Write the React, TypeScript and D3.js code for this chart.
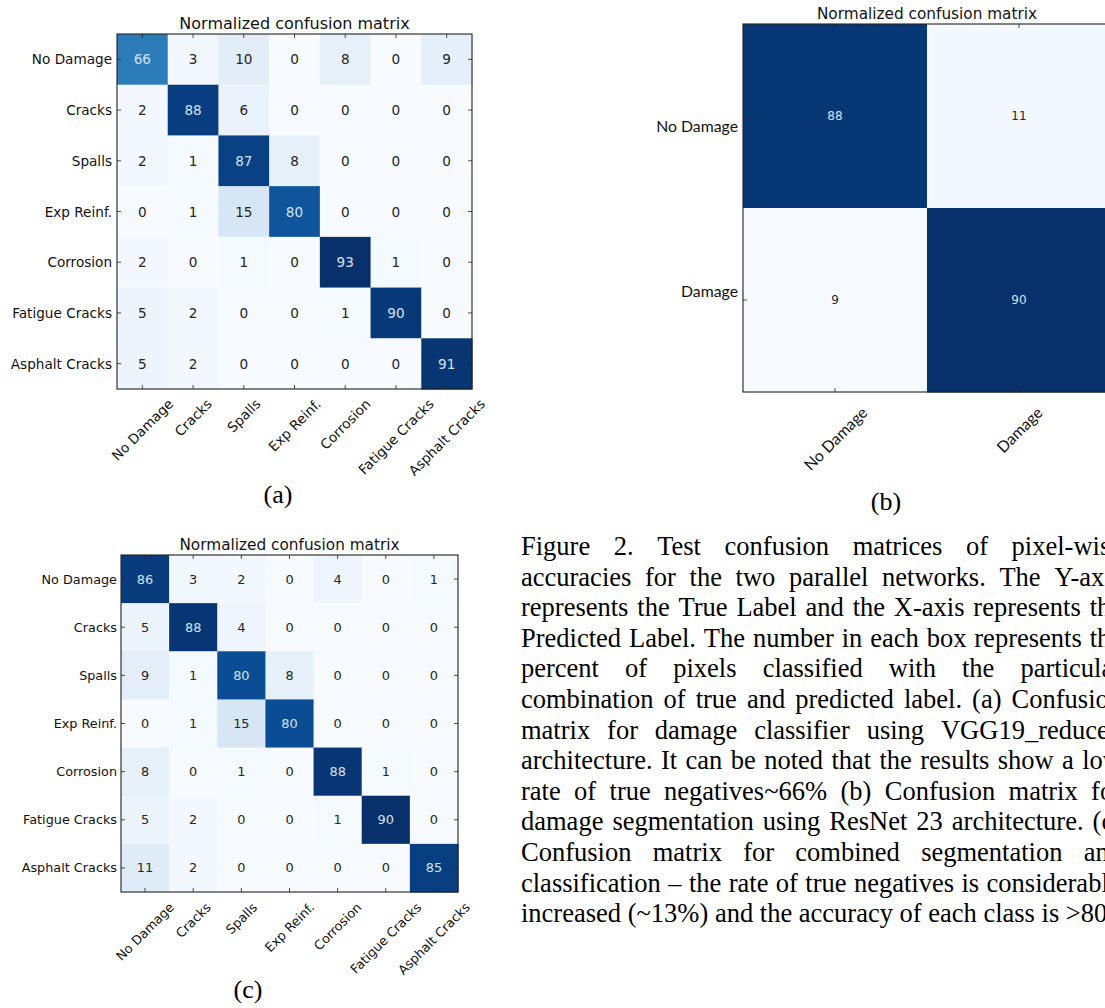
import React, { useEffect, useRef } from "react";
import * as d3 from "d3";

const CLASSES = ["No Damage", "Cracks", "Spalls", "Exp Reinf.", "Corrosion", "Fatigue Cracks", "Asphalt Cracks"];

// (a) VGG19_reduced classifier
const MATRIX_A = [
  [66, 3, 10, 0, 8, 0, 9],
  [2, 88, 6, 0, 0, 0, 0],
  [2, 1, 87, 8, 0, 0, 0],
  [0, 1, 15, 80, 0, 0, 0],
  [2, 0, 1, 0, 93, 1, 0],
  [5, 2, 0, 0, 1, 90, 0],
  [5, 2, 0, 0, 0, 0, 91],
];

// (b) ResNet 23 segmentation
const BINARY_CLASSES = ["No Damage", "Damage"];
const MATRIX_B = [
  [88, 11],
  [9, 90],
];

// (c) combined
const MATRIX_C = [
  [86, 3, 2, 0, 4, 0, 1],
  [5, 88, 4, 0, 0, 0, 0],
  [9, 1, 80, 8, 0, 0, 0],
  [0, 1, 15, 80, 0, 0, 0],
  [8, 0, 1, 0, 88, 1, 0],
  [5, 2, 0, 0, 1, 90, 0],
  [11, 2, 0, 0, 0, 0, 85],
];

const TITLE = "Normalized confusion matrix";
const PANEL_LABELS = ["(a)", "(b)", "(c)"];

const CAPTION_LINES = [
  "Figure 2. Test confusion matrices of pixel-wise",
  "accuracies for the two parallel networks. The Y-axis",
  "represents the True Label and the X-axis represents the",
  "Predicted Label. The number in each box represents the",
  "percent of pixels classified with the particular",
  "combination of true and predicted label. (a) Confusion",
  "matrix for damage classifier using VGG19_reduced",
  "architecture. It can be noted that the results show a low",
  "rate of true negatives~66% (b) Confusion matrix for",
  "damage segmentation using ResNet 23 architecture. (c)",
  "Confusion matrix for combined segmentation and",
  "classification \u2013 the rate of true negatives is considerably",
  "increased (~13%) and the accuracy of each class is >80%.",
];

const W = 1105;
const H = 1008;
const DEJAVU = "'DejaVu Sans', sans-serif";
const SERIF = "'Liberation Serif', 'Times New Roman', serif";

function drawMatrix(svg, { classes, matrix, x0, y0, size, titleSize, tickSize, numSize, tickFont, xGap, yGap, yLabelPad }) {
  const g = svg.append("g");
  const x = d3.scaleBand().domain(classes).range([x0, x0 + size]);
  const y = d3.scaleBand().domain(classes).range([y0, y0 + size]);
  // label positions for the y axis (the binary panel's labels sit a bit inset)
  const yl = d3.scalePoint().domain(classes).range([y0, y0 + size]).padding(yLabelPad ?? 0.5);
  const flat = matrix.flat();
  const lo = d3.min(flat);
  const hi = d3.max(flat);
  const color = d3.scaleSequential(d3.interpolateBlues).domain([lo, hi]);
  const thresh = hi / 2;

  const cells = [];
  matrix.forEach((row, i) => row.forEach((v, j) => cells.push({ i, j, v })));

  g.selectAll("rect.cell")
    .data(cells)
    .join("rect")
    .attr("class", "cell")
    .attr("x", (d) => x(classes[d.j]))
    .attr("y", (d) => y(classes[d.i]))
    .attr("width", x.bandwidth() + 0.5)
    .attr("height", y.bandwidth() + 0.5)
    .attr("fill", (d) => color(d.v));

  g.selectAll("text.num")
    .data(cells)
    .join("text")
    .attr("class", "num")
    .attr("x", (d) => x(classes[d.j]) + x.bandwidth() / 2)
    .attr("y", (d) => y(classes[d.i]) + y.bandwidth() / 2)
    .attr("text-anchor", "middle")
    .attr("dominant-baseline", "central")
    .attr("font-family", DEJAVU)
    .attr("font-size", numSize)
    .attr("fill", (d) => (d.v > thresh ? "#d2e2f5" : "#262626"))
    .text((d) => d.v);

  // frame
  g.append("rect")
    .attr("x", x0)
    .attr("y", y0)
    .attr("width", size)
    .attr("height", size)
    .attr("fill", "none")
    .attr("stroke", "#222")
    .attr("stroke-width", 1.1);

  // inward ticks on all four sides
  const tk = 4;
  classes.forEach((c) => {
    const cx = x(c) + x.bandwidth() / 2;
    const cy = y(c) + y.bandwidth() / 2;
    [
      [cx, y0, cx, y0 + tk],
      [cx, y0 + size, cx, y0 + size - tk],
      [x0, cy, x0 + tk, cy],
      [x0 + size, cy, x0 + size - tk, cy],
    ].forEach(([a, b, c2, d]) =>
      g.append("line").attr("x1", a).attr("y1", b).attr("x2", c2).attr("y2", d).attr("stroke", "#222").attr("stroke-width", 0.8)
    );
  });

  g.append("text")
    .attr("x", x0 + size / 2)
    .attr("y", y0 - 5)
    .attr("text-anchor", "middle")
    .attr("font-family", DEJAVU)
    .attr("font-size", titleSize)
    .attr("fill", "#111")
    .text(TITLE);

  g.selectAll("text.ylab")
    .data(classes)
    .join("text")
    .attr("class", "ylab")
    .attr("x", x0 - yGap)
    .attr("y", (d) => yl(d))
    .attr("text-anchor", "end")
    .attr("dominant-baseline", "central")
    .attr("font-family", tickFont)
    .attr("font-size", tickSize)
    .attr("fill", "#111")
    .text((d) => d);

  // rotated 45deg, centred on tick, top of rotated box just below axis
  g.selectAll("text.xlab")
    .data(classes)
    .join("text")
    .attr("class", "xlab")
    .attr("text-anchor", "middle")
    .attr("dominant-baseline", "central")
    .attr("font-family", tickFont)
    .attr("font-size", tickSize)
    .attr("fill", "#111")
    .text((d) => d)
    .attr("transform", function (d) {
      const w = this.getComputedTextLength();
      const h = tickSize * 1.1;
      const half = ((w + h) * Math.SQRT1_2) / 2;
      return `translate(${x(d) + x.bandwidth() / 2},${y0 + size + xGap + half}) rotate(-45)`;
    });
}

function drawCaption(svg, lines, { x0, x1, y0, lh, fontSize }) {
  const g = svg.append("g").attr("font-family", SERIF).attr("font-size", fontSize).attr("fill", "#000");
  lines.forEach((line, k) => {
    const yy = y0 + k * lh;
    const words = line.split(" ");
    const last = k === lines.length - 1;
    const nodes = words.map((wd) => g.append("text").attr("y", yy).text(wd));
    const widths = nodes.map((n) => n.node().getComputedTextLength());
    const total = d3.sum(widths);
    const space = fontSize * 0.25;
    const gap = last || words.length < 2 ? space : Math.max(space, (x1 - x0 - total) / (words.length - 1));
    let cx = x0;
    nodes.forEach((n, i) => {
      n.attr("x", cx);
      cx += widths[i] + gap;
    });
  });
}

export default function App() {
  const ref = useRef(null);

  useEffect(() => {
    const svg = d3.select(ref.current);
    svg.selectAll("*").remove();
    svg.append("rect").attr("width", W).attr("height", H).attr("fill", "#fff");

    drawMatrix(svg, {
      classes: CLASSES, matrix: MATRIX_A, x0: 117, y0: 34, size: 355,
      titleSize: 16, tickSize: 13.6, numSize: 13.6, tickFont: DEJAVU, xGap: 7, yGap: 5,
    });
    drawMatrix(svg, {
      classes: BINARY_CLASSES, matrix: MATRIX_B, x0: 743, y0: 24, size: 368,
      titleSize: 15.3, tickSize: 15.8, numSize: 12, tickFont: "Lato, sans-serif", xGap: 11, yGap: 5, yLabelPad: 0.62,
    });
    drawMatrix(svg, {
      classes: CLASSES, matrix: MATRIX_C, x0: 121, y0: 555, size: 337,
      titleSize: 15.3, tickSize: 12.8, numSize: 12.9, tickFont: DEJAVU, xGap: 8, yGap: 4,
    });

    const labelPos = [[278, 503], [886, 510], [248, 998]];
    svg.selectAll("text.panel")
      .data(PANEL_LABELS)
      .join("text")
      .attr("class", "panel")
      .attr("x", (d, i) => labelPos[i][0])
      .attr("y", (d, i) => labelPos[i][1])
      .attr("text-anchor", "middle")
      .attr("font-family", SERIF)
      .attr("font-size", 26)
      .text((d) => d);

    drawCaption(svg, CAPTION_LINES, { x0: 521, x1: 1122, y0: 555, lh: 30.6, fontSize: 26.5 });
  }, []);

  return (
    <div style={{ position: "absolute", left: 0, top: 0 }}>
      <svg ref={ref} width={W} height={H} style={{ display: "block" }} />
    </div>
  );
}
